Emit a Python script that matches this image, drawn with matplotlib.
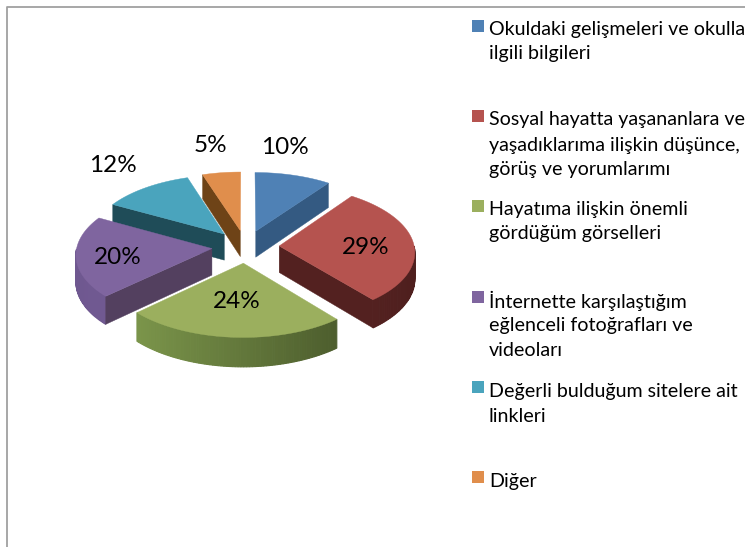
import matplotlib
matplotlib.use('Agg')
import matplotlib.pyplot as plt
import numpy as np

plt.rcParams['font.family'] = ['Lato', 'DejaVu Sans']

values = [10, 29, 24, 20, 12, 5]
labels = ["Okuldaki gelişmeleri ve okulla\nilgili bilgileri",
          "Sosyal hayatta yaşananlara ve\nyaşadıklarıma ilişkin düşünce,\ngörüş ve yorumlarımı",
          "Hayatıma ilişkin önemli\ngördüğüm görselleri",
          "İnternette karşılaştığım\neğlenceli fotoğrafları ve\nvideoları",
          "Değerli bulduğum sitelere ait\nlinkleri",
          "Diğer"]

top_colors = ['#4F81B5', '#B5534F', '#9BAF5E', '#7F659F', '#4AA4BD', '#E08E4C']
face_colors = ['#345A82', '#532120', '#4A5A2C', '#53405F', '#1F4C58', '#6E4317']
wall_left = ['#345A82', '#6A2A28', '#84A050', '#6F5890', '#1F4C58', '#6E4317']
wall_right = ['#345A82', '#4E1F1E', '#414F26', '#7A609A', '#1F4C58', '#6E4317']

# pie geometry in pixels
cx, cy = 245.5, 246.5
rx, ry = 135, 65.6
persp = 0.079
explode = 0.25
depth = 26.5

# legend layout
line_y = [[30, 54], [120, 145, 170], [210, 234], [301, 325, 351], [391, 416], [481]]
pct_pos = [(285, 148), (366, 247), (237, 302), (118, 257), (113, 166), (210, 145)]


def project(u, v, drop=0.0):
    p = 1 / (1 + persp * v)
    return cx + rx * u * p, cy - ry * v * p + drop * p


def blend(c1, c2, t):
    a = np.array(matplotlib.colors.to_rgb(c1))
    b = np.array(matplotlib.colors.to_rgb(c2))
    return tuple(a + (b - a) * t)


fig = plt.figure(figsize=(7.45, 5.47), dpi=100)
ax = fig.add_axes([0, 0, 1, 1])
ax.set_xlim(0, 745)
ax.set_ylim(547, 0)
ax.axis('off')

# frame of the slide
ax.plot([6.5, 6.5, 745], [547, 6.5, 6.5], color='#A0A0A0', lw=1.3)

edges = np.cumsum([0] + values) / sum(values) * 2 * np.pi
order = [5, 4, 0, 3, 1, 2]

for i in order:
    start, end = edges[i], edges[i + 1]
    mid = (start + end) / 2
    ou, ov = explode * np.sin(mid), explode * np.cos(mid)
    th = np.linspace(start, end, 80)
    us = ou + np.sin(th)
    vs = ov + np.cos(th)

    # outer wall, only the part turned to the viewer
    for k in range(len(th) - 1):
        if np.cos((th[k] + th[k + 1]) / 2) < 0:
            a = project(us[k], vs[k])
            b = project(us[k + 1], vs[k + 1])
            c = project(us[k + 1], vs[k + 1], depth)
            d = project(us[k], vs[k], depth)
            t = (np.sin(th[k]) + 1) / 2
            ax.fill([a[0], b[0], c[0], d[0]], [a[1], b[1], c[1], d[1]],
                    color=blend(wall_left[i], wall_right[i], t), lw=0.8)

    # radial side faces
    for ang, visible in ((start, np.sin(start) < -1e-6), (end, np.sin(end) > 1e-6)):
        if visible:
            eu, ev = ou + np.sin(ang), ov + np.cos(ang)
            a = project(ou, ov)
            b = project(eu, ev)
            c = project(eu, ev, depth)
            d = project(ou, ov, depth)
            ax.fill([a[0], b[0], c[0], d[0]], [a[1], b[1], c[1], d[1]],
                    color=face_colors[i], lw=0.3)

    # top of the slice
    xs, ys = project(np.r_[ou, us], np.r_[ov, vs])
    ax.fill(xs, ys, color=top_colors[i], lw=0.3)

for v, pos in zip(values, pct_pos):
    ax.text(pos[0], pos[1], '%d%%' % v, fontsize=17.5, color='#000000',
            ha='center', va='center')

for i, lab in enumerate(labels):
    ax.add_patch(plt.Rectangle((472, line_y[i][0] - 10), 12, 12, color=top_colors[i], lw=0))
    for line, y in zip(lab.split('\n'), line_y[i]):
        ax.text(489, y, line, fontsize=14.1, color='#000000', ha='left', va='center')

fig.savefig('out.png', dpi=100)
